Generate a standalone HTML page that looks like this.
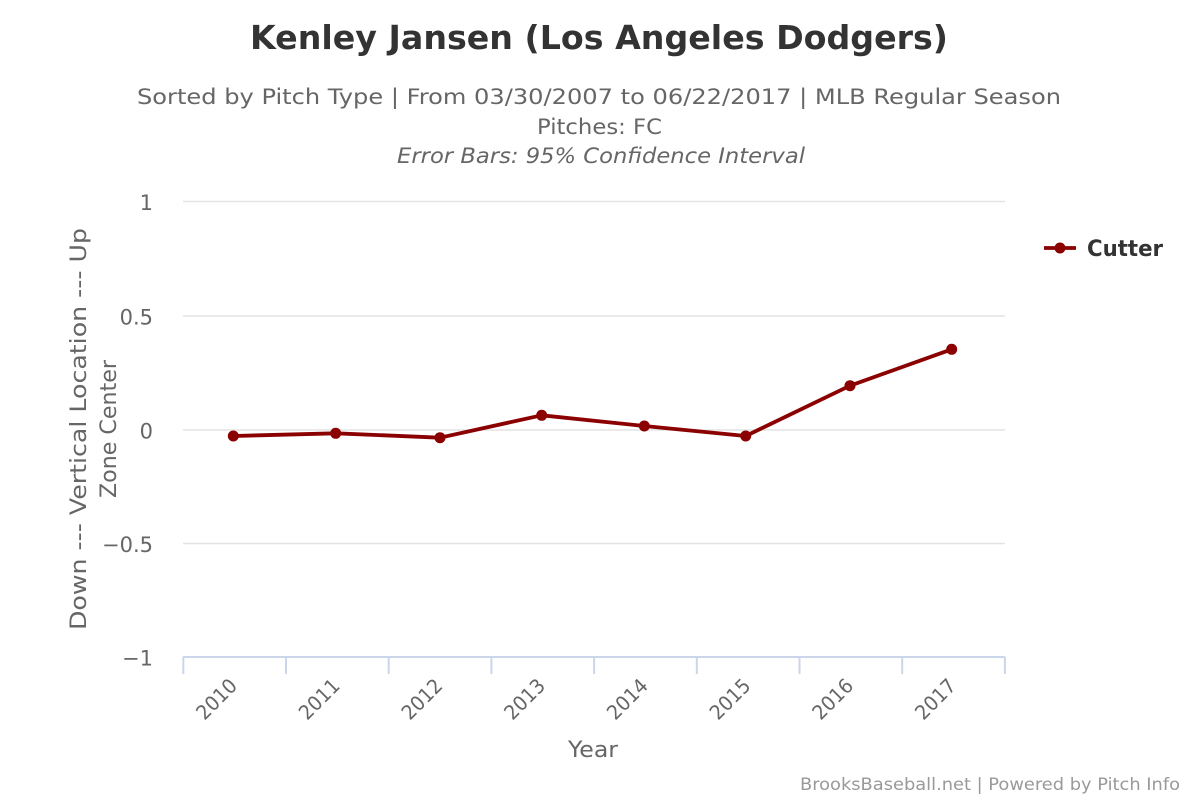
<!DOCTYPE html>
<html>
<head>
<meta charset="utf-8">
<style>
  html, body { margin: 0; padding: 0; background: #ffffff; }
  svg { display: block; }
  text { font-family: "DejaVu Sans", "Liberation Sans", sans-serif; }
</style>
</head>
<body>
<svg width="1200" height="800" viewBox="0 0 1200 800" xmlns="http://www.w3.org/2000/svg">
  <rect x="0" y="0" width="1200" height="800" fill="#ffffff"/>

  <!-- Title -->
  <text x="599" y="49" text-anchor="middle" font-size="33" font-weight="bold" fill="#333333" textLength="698" lengthAdjust="spacingAndGlyphs">Kenley Jansen (Los Angeles Dodgers)</text>

  <!-- Subtitles -->
  <text x="599" y="104" text-anchor="middle" font-size="21" fill="#666666" textLength="924" lengthAdjust="spacingAndGlyphs">Sorted by Pitch Type | From 03/30/2007 to 06/22/2017 | MLB Regular Season</text>
  <text x="599.5" y="134" text-anchor="middle" font-size="21" fill="#666666" textLength="125" lengthAdjust="spacingAndGlyphs">Pitches: FC</text>
  <text x="601" y="163" text-anchor="middle" font-size="21" font-style="italic" fill="#666666" textLength="408" lengthAdjust="spacingAndGlyphs">Error Bars: 95% Confidence Interval</text>

  <!-- Grid lines -->
  <g stroke="#e4e4e4" stroke-width="1.5">
    <line x1="183" y1="201.5" x2="1005" y2="201.5"/>
    <line x1="183" y1="316" x2="1005" y2="316"/>
    <line x1="183" y1="430" x2="1005" y2="430"/>
    <line x1="183" y1="543.5" x2="1005" y2="543.5"/>
  </g>

  <!-- X axis line and ticks -->
  <g stroke="#ccd6eb" stroke-width="2">
    <line x1="183" y1="657" x2="1005" y2="657"/>
    <line x1="183.3" y1="657" x2="183.3" y2="674"/>
    <line x1="286" y1="657" x2="286" y2="674"/>
    <line x1="388.7" y1="657" x2="388.7" y2="674"/>
    <line x1="491.4" y1="657" x2="491.4" y2="674"/>
    <line x1="594.1" y1="657" x2="594.1" y2="674"/>
    <line x1="696.8" y1="657" x2="696.8" y2="674"/>
    <line x1="799.5" y1="657" x2="799.5" y2="674"/>
    <line x1="902.2" y1="657" x2="902.2" y2="674"/>
    <line x1="1004.9" y1="657" x2="1004.9" y2="674"/>
  </g>

  <!-- Y tick labels -->
  <g font-size="21" fill="#666666" text-anchor="end">
    <text x="153" y="210">1</text>
    <text x="153" y="324.5">0.5</text>
    <text x="153" y="438.5">0</text>
    <text x="153" y="552">−0.5</text>
    <text x="153" y="665.5">−1</text>
  </g>

  <!-- X tick labels -->
  <g font-size="20" fill="#666666" text-anchor="end">
    <text transform="translate(238.4,687) rotate(-45)" textLength="48" lengthAdjust="spacingAndGlyphs">2010</text>
    <text transform="translate(341.1,687) rotate(-45)" textLength="48" lengthAdjust="spacingAndGlyphs">2011</text>
    <text transform="translate(443.8,687) rotate(-45)" textLength="48" lengthAdjust="spacingAndGlyphs">2012</text>
    <text transform="translate(546.5,687) rotate(-45)" textLength="48" lengthAdjust="spacingAndGlyphs">2013</text>
    <text transform="translate(649.2,687) rotate(-45)" textLength="48" lengthAdjust="spacingAndGlyphs">2014</text>
    <text transform="translate(751.9,687) rotate(-45)" textLength="48" lengthAdjust="spacingAndGlyphs">2015</text>
    <text transform="translate(854.6,687) rotate(-45)" textLength="48" lengthAdjust="spacingAndGlyphs">2016</text>
    <text transform="translate(957.3,687) rotate(-45)" textLength="48" lengthAdjust="spacingAndGlyphs">2017</text>
  </g>

  <!-- X axis title -->
  <text x="593" y="757" text-anchor="middle" font-size="22" fill="#666666" textLength="50" lengthAdjust="spacingAndGlyphs">Year</text>

  <!-- Y axis title -->
  <text transform="translate(86,429) rotate(-90)" text-anchor="middle" font-size="22" fill="#666666" textLength="402" lengthAdjust="spacingAndGlyphs">Down --- Vertical Location --- Up</text>
  <text transform="translate(116,429) rotate(-90)" text-anchor="middle" font-size="22" fill="#666666" textLength="138" lengthAdjust="spacingAndGlyphs">Zone Center</text>

  <!-- Series -->
  <polyline fill="none" stroke="#8b0000" stroke-width="3.8" stroke-linejoin="round" stroke-linecap="round"
    points="233.3,436 335.7,433.3 440,437.7 541.7,415.3 644.3,426 745.7,436 850,385.7 951.7,349.3"/>
  <g fill="#8b0000">
    <circle cx="233.3" cy="436" r="5.5"/>
    <circle cx="335.7" cy="433.3" r="5.5"/>
    <circle cx="440" cy="437.7" r="5.5"/>
    <circle cx="541.7" cy="415.3" r="5.5"/>
    <circle cx="644.3" cy="426" r="5.5"/>
    <circle cx="745.7" cy="436" r="5.5"/>
    <circle cx="850" cy="385.7" r="5.5"/>
    <circle cx="951.7" cy="349.3" r="5.5"/>
  </g>

  <!-- Legend -->
  <line x1="1044" y1="248" x2="1076" y2="248" stroke="#8b0000" stroke-width="3.8"/>
  <circle cx="1060" cy="248" r="5.5" fill="#8b0000"/>
  <text x="1087" y="256" font-size="22" font-weight="bold" fill="#333333" textLength="76" lengthAdjust="spacingAndGlyphs">Cutter</text>

  <!-- Credits -->
  <text x="1180" y="790" text-anchor="end" font-size="17" fill="#999999" textLength="380" lengthAdjust="spacingAndGlyphs">BrooksBaseball.net | Powered by Pitch Info</text>
</svg>
</body>
</html>
